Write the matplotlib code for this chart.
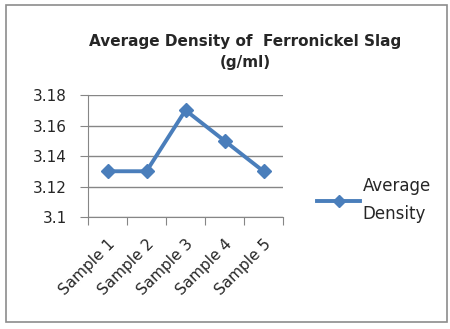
import matplotlib.pyplot as plt
from matplotlib.patches import Rectangle
from matplotlib.lines import Line2D

samples = ['Sample 1', 'Sample 2', 'Sample 3', 'Sample 4', 'Sample 5']
density = [3.13, 3.13, 3.17, 3.15, 3.13]
yticks = [3.1, 3.12, 3.14, 3.16, 3.18]
ylabels = ['3.1', '3.12', '3.14', '3.16', '3.18']

blue = '#4a7ebb'
W, H = 450, 329
fig = plt.figure(figsize=(4.5, 3.29), dpi=100)
plt.rcParams['font.family'] = ['DejaVu Sans']

# outer chart border
fig.patches.append(Rectangle((6 / W, 1 - 322 / H), 441 / W, 317 / H,
                             transform=fig.transFigure, fill=False,
                             edgecolor='#8c8c8c', linewidth=1.2))

ax = fig.add_axes([88 / W, 1 - 217 / H, 195 / W, 122 / H])
x = range(len(samples))
ax.plot(x, density, color=blue, linewidth=2.8, marker='D', markersize=7,
        label='Average\nDensity')
ax.set_xlim(-0.5, len(samples) - 0.5)
ax.set_ylim(3.1, 3.18)
ax.set_yticks(yticks)
ax.set_yticklabels(ylabels, fontsize=11, color='#262626')
ax.set_xticks([i - 0.5 for i in range(len(samples) + 1)])
ax.set_xticklabels([])
ax.set_xticks(list(x), minor=True)
ax.set_xticklabels(samples, minor=True, rotation=45, ha='right',
                   rotation_mode='anchor', fontsize=11, color='#262626')
ax.tick_params(axis='x', which='minor', length=0, pad=14)
ax.tick_params(axis='x', which='major', length=6, color='#868686')
ax.tick_params(axis='y', length=6, color='#868686', pad=9)
ax.yaxis.grid(True, color='#868686', linewidth=1)
for s in ['top', 'right']:
    ax.spines[s].set_visible(False)
for s in ['left', 'bottom']:
    ax.spines[s].set_color('#868686')

fig.text(245 / W, 1 - 52 / H, 'Average Density of  Ferronickel Slag\n(g/ml)',
         ha='center', va='center', fontsize=11, fontweight='bold',
         linespacing=1.55, color='#262626')

handle = Line2D([], [], color=blue, linewidth=2.8, marker='D', markersize=6)
leg = fig.legend([handle], ['Average\nDensity'], loc='center left',
                 bbox_to_anchor=(302 / W, 1 - 200 / H), frameon=False,
                 fontsize=12, handlelength=2.6, handletextpad=0.15)
for t in leg.get_texts():
    t.set_linespacing(1.75)
    t.set_color('#262626')

fig.savefig('out.png', dpi=100)
